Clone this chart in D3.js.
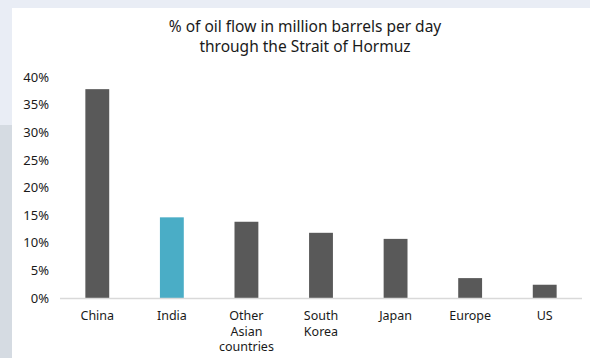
<!DOCTYPE html>
<html>
<head>
<meta charset="utf-8">
<script src="https://cdn.jsdelivr.net/npm/d3@7/dist/d3.min.js"></script>
<style>
  html, body { margin: 0; padding: 0; background: #ffffff; }
  svg { display: block; }
  text { font-family: "Noto Sans", "Open Sans", sans-serif; fill: #1a1a1a; }
</style>
</head>
<body>
<svg id="chart" width="590" height="358"></svg>
<script>
// Share of Strait of Hormuz oil flow by destination
const categories = ["China", "India", "Other Asian countries", "South Korea", "Japan", "Europe", "US"];
const categoryLines = [["China"], ["India"], ["Other", "Asian", "countries"], ["South", "Korea"], ["Japan"], ["Europe"], ["US"]];
const shares = [37.8, 14.6, 13.8, 11.8, 10.7, 3.6, 2.4];
const highlighted = ["India"];
const yTicks = [0, 5, 10, 15, 20, 25, 30, 35, 40];
const titleLines = ["% of oil flow in million barrels per day", "through the Strait of Hormuz"];

const svg = d3.select("#chart");
const W = 590, H = 358;

// page backdrop and white card
svg.append("rect").attr("x", 0).attr("y", 0).attr("width", W).attr("height", H).attr("fill", "#e9edf5");
svg.append("rect").attr("x", 0).attr("y", 125).attr("width", 12).attr("height", H - 125).attr("fill", "#d5dbe2");
svg.append("rect").attr("x", 12).attr("y", 8).attr("width", W - 12).attr("height", H - 8).attr("fill", "#ffffff");

const x = d3.scaleBand()
  .domain(categories)
  .range([60, 582])
  .paddingInner(0.68)
  .paddingOuter(0.34);

const y = d3.scaleLinear().domain([0, 40]).range([298, 77]);

// title
svg.append("g").selectAll("text")
  .data(titleLines)
  .join("text")
  .attr("x", 305)
  .attr("y", (d, i) => 32 + i * 20)
  .attr("text-anchor", "middle")
  .attr("font-size", 15.5)
  .text(d => d);

// y axis labels (no line, no ticks)
const yAxis = d3.axisLeft(y)
  .tickValues(yTicks)
  .tickFormat(d => d + "%")
  .tickSize(0)
  .tickPadding(0);
const yg = svg.append("g").attr("transform", "translate(49,0)").call(yAxis);
yg.select(".domain").remove();
yg.selectAll("text").attr("font-size", 13).attr("fill", "#1a1a1a")
  .style("font-family", "'Noto Sans', 'Open Sans', sans-serif");

// bars
svg.append("g").selectAll("rect")
  .data(categories.map((c, i) => ({ c, v: shares[i] })))
  .join("rect")
  .attr("x", d => x(d.c))
  .attr("y", d => y(d.v))
  .attr("width", x.bandwidth())
  .attr("height", d => y(0) - y(d.v))
  .attr("fill", d => highlighted.includes(d.c) ? "#4aadc6" : "#595959");

// baseline
svg.append("line")
  .attr("x1", 60).attr("x2", 582)
  .attr("y1", y(0) + 0.5).attr("y2", y(0) + 0.5)
  .attr("stroke", "#d9d9d9").attr("stroke-width", 1.5);

// category labels
const xl = svg.append("g").selectAll("text")
  .data(categories.map((c, i) => ({ c, lines: categoryLines[i] })))
  .join("text")
  .attr("text-anchor", "middle")
  .attr("font-size", 12.5)
  .attr("transform", d => `translate(${x(d.c) + x.bandwidth() / 2},320)`);
xl.selectAll("tspan")
  .data(d => d.lines)
  .join("tspan")
  .attr("x", 0)
  .attr("dy", (d, i) => i === 0 ? 0 : 15.5)
  .text(d => d);
</script>
</body>
</html>
